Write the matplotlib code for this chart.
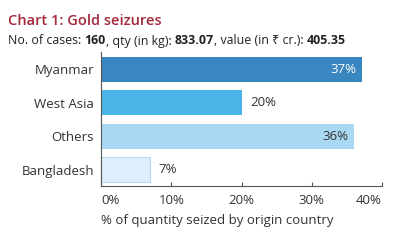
import matplotlib.pyplot as plt

plt.rcParams['font.family'] = ['Open Sans', 'Noto Sans', 'DejaVu Sans']

# data
countries = ["Myanmar", "West Asia", "Others", "Bangladesh"]
shares = [37.2, 20, 36, 7]
share_labels = ["37%", "20%", "36%", "7%"]
bar_colors = ["#3a86c0", "#4ab4e6", "#a9d9f2", "#ddeffa"]
xticks = [0, 10, 20, 30, 40]
subtitle_parts = [("No. of cases:\u00a0", "normal"), ("160", "bold"),
                  (", qty (in kg):\u00a0", "normal"), ("833.07", "bold"),
                  (", value (in ₹ cr.):\u00a0", "normal"), ("405.35", "bold")]

fig = plt.figure(figsize=(3.98, 2.43), dpi=100)
ax = fig.add_axes([101/398, 1 - 186/243, 281/398, (186 - 52)/243])

ypos = list(range(len(countries)))[::-1]
ax.barh(ypos, shares, height=0.75, color=bar_colors,
        edgecolor=["none", "none", "none", "#b9d9ee"], linewidth=0.8)

fs = 9.5
for y, v, lab in zip(ypos, shares, share_labels):
    if v > 30:
        c = "white" if lab == "37%" else "#333333"
        ax.text(v - 0.8, y, lab, ha='right', va='center', fontsize=fs, color=c)
    else:
        ax.text(v + 1.2, y, lab, ha='left', va='center', fontsize=fs, color="#333333")

ax.set_yticks(ypos)
ax.set_yticklabels(countries, fontsize=fs, color="#333333")
ax.set_xlim(0, 40)
ax.set_ylim(-0.48, 3.52)
ax.set_xticks(xticks)
xtl = ax.set_xticklabels([f"{t}%" for t in xticks], fontsize=fs, color="#333333")
xtl[0].set_ha('left')
xtl[-1].set_ha('right')
ax.tick_params(axis='y', length=0, pad=5)
ax.tick_params(axis='x', direction='in', length=3, color="#555555", pad=6)
ax.spines['top'].set_visible(False)
ax.spines['right'].set_visible(False)
for s in ['left', 'bottom']:
    ax.spines[s].set_color("#555555")
    ax.spines[s].set_linewidth(0.8)
ax.set_xlabel("% of quantity seized by origin country", fontsize=fs, color="#333333",
              labelpad=5, loc='left')

fig.text(8/398, 1 - 21/243, "Chart 1: Gold seizures", fontsize=10.5, color="#a3283a",
         fontweight='semibold', va='center')

# subtitle with mixed weights, placed piece by piece
renderer = fig.canvas.get_renderer()
x = 8/398
for txt, w in subtitle_parts:
    t = fig.text(x, 1 - 41/243, txt, fontsize=8.9, fontweight=w, color="#222222", va='center')
    bb = t.get_window_extent(renderer=renderer)
    x += bb.width / fig.bbox.width

fig.savefig("out.png", dpi=100)
